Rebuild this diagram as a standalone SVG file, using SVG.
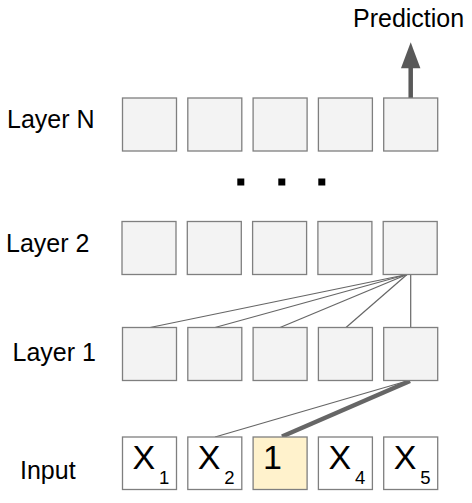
<svg xmlns="http://www.w3.org/2000/svg" width="472" height="503" viewBox="0 0 472 503">
<style>
.lbl{font-family:"Liberation Sans",Arial,sans-serif;font-size:25px;fill:#000}
.box{fill:#f3f3f3;stroke:#7f7f7f;stroke-width:1.3}
.inbox{fill:#ffffff;stroke:#7f7f7f;stroke-width:1.3}
.big{font-family:"Liberation Sans",Arial,sans-serif;font-size:34px;fill:#000}
.sub{font-family:"Liberation Sans",Arial,sans-serif;font-size:18.5px;fill:#000}
.thin{stroke:#666666;stroke-width:1.2;fill:none}
.thick{stroke:#666666;stroke-width:4.5;fill:none}
</style>
<g id="labels">
<text class="lbl" x="353" y="27.3">Prediction</text>
<text class="lbl" x="7" y="127.5">Layer N</text>
<text class="lbl" x="6" y="251.7">Layer 2</text>
<text class="lbl" x="12.5" y="361.3">Layer 1</text>
<text class="lbl" x="20" y="479.3">Input</text>
</g>
<g id="connectors">
<line class="thin" x1="407" y1="274.5" x2="150" y2="327.5"/>
<line class="thin" x1="407" y1="274.5" x2="215" y2="327.5"/>
<line class="thin" x1="407" y1="274.5" x2="280" y2="327.5"/>
<line class="thin" x1="407" y1="274.5" x2="346" y2="327.5"/>
<line class="thin" x1="410.7" y1="274.5" x2="410.7" y2="327.5"/>
<line class="thin" x1="407" y1="381" x2="215" y2="437"/>
<line class="thick" x1="410" y1="381" x2="282" y2="436.5"/>
<line stroke="#595959" stroke-width="4.5" x1="410.7" y1="98" x2="410.7" y2="66"/>
<path d="M401,68.3 L410.7,42.3 L420.4,68.3 Z" fill="#595959"/>
</g>
<g id="layerN">
<rect class="box" x="122.5" y="98" width="54" height="53"/>
<rect class="box" x="187.8" y="98" width="54" height="53"/>
<rect class="box" x="253.1" y="98" width="54" height="53"/>
<rect class="box" x="318.4" y="98" width="54" height="53"/>
<rect class="box" x="383.7" y="98" width="54" height="53"/>
</g>
<g id="dots" fill="#000">
<rect x="237.3" y="178.5" width="7" height="7"/>
<rect x="278.3" y="178.5" width="7" height="7"/>
<rect x="318.3" y="178.5" width="7" height="7"/>
</g>
<g id="layer2">
<rect class="box" x="122" y="221.5" width="54" height="53"/>
<rect class="box" x="187.3" y="221.5" width="54" height="53"/>
<rect class="box" x="252.6" y="221.5" width="54" height="53"/>
<rect class="box" x="317.9" y="221.5" width="54" height="53"/>
<rect class="box" x="383.2" y="221.5" width="54" height="53"/>
</g>
<g id="layer1">
<rect class="box" x="122.5" y="327.5" width="54" height="53"/>
<rect class="box" x="187.8" y="327.5" width="54" height="53"/>
<rect class="box" x="253.1" y="327.5" width="54" height="53"/>
<rect class="box" x="318.4" y="327.5" width="54" height="53"/>
<rect class="box" x="383.7" y="327.5" width="54" height="53"/>
</g>
<g id="input1">
<rect class="inbox" x="122.5" y="437" width="54" height="52.5"/>
<text class="big" x="132.5" y="469.3">X</text><text class="sub" x="159" y="484.3">1</text>
</g>
<g id="input2">
<rect class="inbox" x="187.8" y="437" width="54" height="52.5"/>
<text class="big" x="197.8" y="469.3">X</text><text class="sub" x="224.3" y="484.3">2</text>
</g>
<g id="input3">
<rect x="253.1" y="437" width="54" height="52.5" fill="#fff2cc" stroke="#7f7f7f" stroke-width="1.3"/>
<text class="big" x="263" y="469.3">1</text>
</g>
<g id="input4">
<rect class="inbox" x="318.4" y="437" width="54" height="52.5"/>
<text class="big" x="328.4" y="469.3">X</text><text class="sub" x="354.9" y="484.3">4</text>
</g>
<g id="input5">
<rect class="inbox" x="383.7" y="437" width="54" height="52.5"/>
<text class="big" x="393.7" y="469.3">X</text><text class="sub" x="420.2" y="484.3">5</text>
</g>
</svg>
